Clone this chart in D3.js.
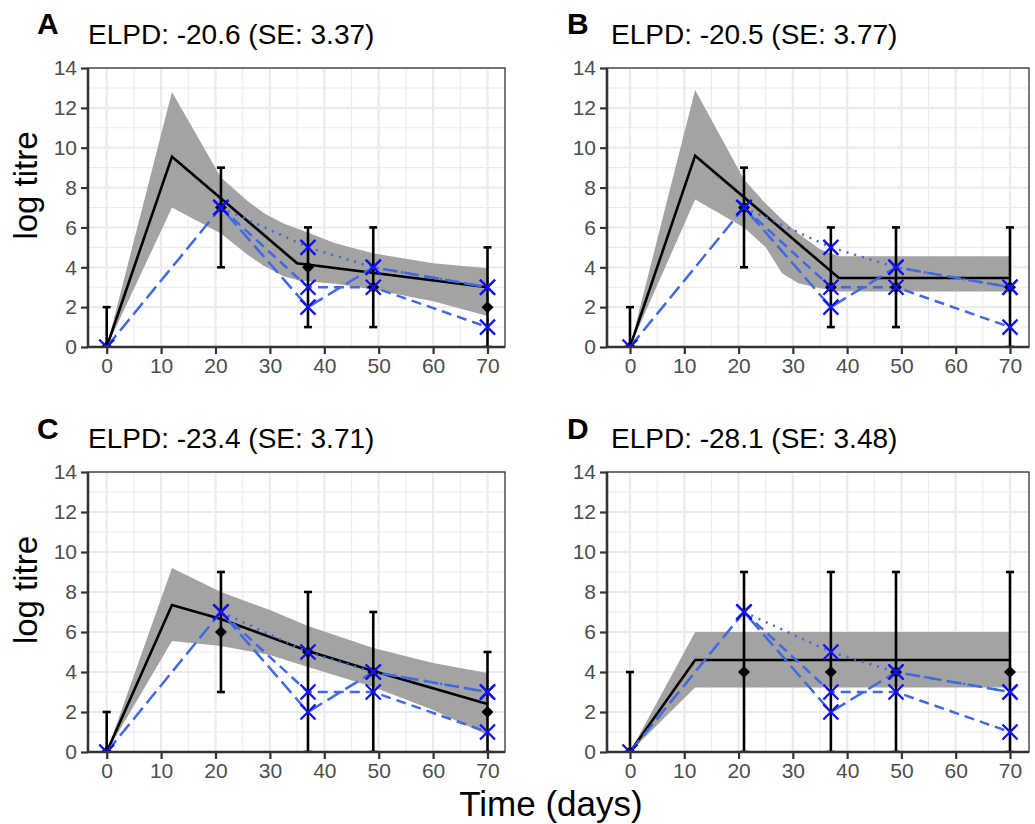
<!DOCTYPE html>
<html lang="en">
<head>
<meta charset="utf-8">
<title>ELPD panels</title>
<script src="https://cdn.jsdelivr.net/npm/d3@7/dist/d3.min.js"></script>
<style>
  body { margin: 0; background: #fff; }
  svg text { font-family: "Liberation Sans", Arial, Helvetica, sans-serif; }
</style>
</head>
<body>
<script>
// ---- data ----
var panelLetters = ["A", "B", "C", "D"];
var panelTitles = ["ELPD: -20.6 (SE: 3.37)", "ELPD: -20.5 (SE: 3.77)",
                   "ELPD: -23.4 (SE: 3.71)", "ELPD: -28.1 (SE: 3.48)"];

// observed summary: diamonds + error bars
var obsDays = [0, 21, 37, 49, 70];
var obsMid  = [[0, 7, 4, 3, 2], [0, 7, 3, 3, 3], [0, 6, 5, 4, 2], [0, 4, 4, 4, 4]];
var obsLow  = [[0, 4, 1, 1, 0], [0, 4, 1, 1, 0], [0, 3, 0, 0, 0], [0, 0, 0, 0, 0]];
var obsHigh = [[2, 9, 6, 6, 5], [2, 9, 6, 6, 6], [2, 9, 8, 7, 5], [4, 9, 9, 9, 9]];

// model fit: mean line
var fitDays = [[0, 12, 35, 70], [0, 12, 38.5, 70], [0, 12, 21, 37, 49, 70], [0, 12, 70]];
var fitMean = [[0, 9.55, 4.2, 3.0], [0, 9.6, 3.46, 3.46], [0, 7.35, 6.65, 5.05, 4.05, 2.4], [0, 4.6, 4.6]];

// model fit: credible band
var bandDays = [
  [0, 12, 21, 26, 29, 32.5, 35.5, 42, 49, 60, 70],
  [0, 12, 21, 25, 28, 31, 35, 38.5, 70],
  [0, 12, 21, 30, 37, 49, 60, 70],
  [0, 12, 70]
];
var bandUpper = [
  [0, 12.8, 8.5, 7.3, 6.7, 6.2, 5.9, 5.2, 4.7, 4.2, 3.95],
  [0, 12.9, 8.4, 7.2, 6.4, 5.7, 4.9, 4.55, 4.55],
  [0, 9.2, 8.0, 7.1, 6.3, 5.2, 4.45, 3.95],
  [0, 6.0, 6.0]
];
var bandLower = [
  [0, 7.0, 5.7, 4.6, 4.05, 3.55, 3.33, 3.18, 2.88, 2.3, 1.55],
  [0, 7.4, 6.0, 5.0, 3.7, 3.2, 2.95, 2.78, 2.78],
  [0, 5.55, 5.3, 4.85, 4.25, 3.25, 2.1, 0.85],
  [0, 3.22, 3.22]
];

// individual subjects (blue), same in every panel
var subjDays  = [[21, 37, 49, 70], [21, 37, 49, 70], [0, 21, 37, 49, 70]];
var subjTitre = [[7, 5, 4, 3], [7, 3, 3, 1], [0, 7, 2, 4, 3]];
var subjDash  = ["2,6", "10,6", "15,6"];

var xTicks = [0, 10, 20, 30, 40, 50, 60, 70];
var xMinor = [5, 15, 25, 35, 45, 55, 65];
var yTicks = [0, 2, 4, 6, 8, 10, 12, 14];
var yMinor = [1, 3, 5, 7, 9, 11, 13];

// ---- layout ----
var W = 1035, H = 824;
var boxes = [
  { left: 88, right: 505, top: 68, bottom: 347, x0: 106.7, x70: 487.5, tx: 37, ty: 34, hx: 88, hy: 44, ylab: true },
  { left: 607, right: 1029, top: 68, bottom: 347, x0: 630, x70: 1010, tx: 567, ty: 34, hx: 611, hy: 44, ylab: false },
  { left: 88, right: 505, top: 472, bottom: 752, x0: 106.7, x70: 487.5, tx: 37, ty: 439, hx: 88, hy: 448, ylab: true },
  { left: 607, right: 1029, top: 472, bottom: 752, x0: 630, x70: 1010, tx: 567, ty: 439, hx: 611, hy: 448, ylab: false }
];

var svg = d3.select("body").append("svg").attr("width", W).attr("height", H);

boxes.forEach(function (b, p) {
  var x = d3.scaleLinear().domain([0, 70]).range([b.x0, b.x70]);
  var y = d3.scaleLinear().domain([0, 14]).range([b.bottom, b.top]);
  var g = svg.append("g");

  // clip to panel
  var cid = "clip" + p;
  svg.append("clipPath").attr("id", cid).append("rect")
    .attr("x", b.left).attr("y", b.top)
    .attr("width", b.right - b.left).attr("height", b.bottom - b.top);

  // grid
  var grid = g.append("g");
  grid.selectAll(".xm").data(xMinor).enter().append("line")
    .attr("x1", x).attr("x2", x).attr("y1", b.top).attr("y2", b.bottom)
    .attr("stroke", "#ebebeb").attr("stroke-width", 1.1);
  grid.selectAll(".ym").data(yMinor).enter().append("line")
    .attr("x1", b.left).attr("x2", b.right).attr("y1", y).attr("y2", y)
    .attr("stroke", "#ebebeb").attr("stroke-width", 1.1);
  grid.selectAll(".xM").data(xTicks).enter().append("line")
    .attr("x1", x).attr("x2", x).attr("y1", b.top).attr("y2", b.bottom)
    .attr("stroke", "#ebebeb").attr("stroke-width", 2.2);
  grid.selectAll(".yM").data(yTicks).enter().append("line")
    .attr("x1", b.left).attr("x2", b.right).attr("y1", y).attr("y2", y)
    .attr("stroke", "#ebebeb").attr("stroke-width", 2.2);

  var plot = g.append("g").attr("clip-path", "url(#" + cid + ")");

  // band
  var band = bandDays[p].map(function (d, i) { return { d: d, lo: bandLower[p][i], hi: bandUpper[p][i] }; });
  plot.append("path").datum(band)
    .attr("fill", "#a3a3a3")
    .attr("d", d3.area().x(function (d) { return x(d.d); })
      .y0(function (d) { return y(d.lo); }).y1(function (d) { return y(d.hi); }));

  // mean line
  var fit = fitDays[p].map(function (d, i) { return [d, fitMean[p][i]]; });
  plot.append("path").datum(fit)
    .attr("fill", "none").attr("stroke", "#000").attr("stroke-width", 2.6)
    .attr("d", d3.line().x(function (d) { return x(d[0]); }).y(function (d) { return y(d[1]); }));

  // subject lines
  subjDays.forEach(function (ds, s) {
    var pts = ds.map(function (d, i) { return [d, subjTitre[s][i]]; });
    plot.append("path").datum(pts)
      .attr("fill", "none").attr("stroke", "#4169e1").attr("stroke-width", 2.5)
      .attr("stroke-dasharray", subjDash[s])
      .attr("d", d3.line().x(function (d) { return x(d[0]); }).y(function (d) { return y(d[1]); }));
  });

  // error bars
  var obs = obsDays.map(function (d, i) { return { d: d, m: obsMid[p][i], lo: obsLow[p][i], hi: obsHigh[p][i] }; });
  var eb = plot.append("g").attr("stroke", "#000").attr("stroke-width", 2.6);
  obs.forEach(function (o) {
    eb.append("line").attr("x1", x(o.d)).attr("x2", x(o.d)).attr("y1", y(o.lo)).attr("y2", y(o.hi));
    eb.append("line").attr("x1", x(o.d) - 4).attr("x2", x(o.d) + 4).attr("y1", y(o.hi)).attr("y2", y(o.hi));
    eb.append("line").attr("x1", x(o.d) - 4).attr("x2", x(o.d) + 4).attr("y1", y(o.lo)).attr("y2", y(o.lo));
  });

  // diamonds
  plot.selectAll(".dia").data(obs).enter().append("path")
    .attr("fill", "#000")
    .attr("d", function (o) {
      var cx = x(o.d), cy = y(o.m), r = 6;
      return "M" + cx + "," + (cy - r) + "L" + (cx + r) + "," + cy + "L" + cx + "," + (cy + r) + "L" + (cx - r) + "," + cy + "Z";
    });

  // subject crosses
  subjDays.forEach(function (ds, s) {
    ds.forEach(function (d, i) {
      var cx = x(d), cy = y(subjTitre[s][i]), r = 7.5;
      plot.append("path")
        .attr("stroke", "#1212f0").attr("stroke-width", 2.3).attr("fill", "none")
        .attr("d", "M" + (cx - r) + "," + (cy - r) + "L" + (cx + r) + "," + (cy + r) +
                   "M" + (cx - r) + "," + (cy + r) + "L" + (cx + r) + "," + (cy - r));
    });
  });

  // panel border and axes
  g.append("rect").attr("x", b.left).attr("y", b.top)
    .attr("width", b.right - b.left).attr("height", b.bottom - b.top)
    .attr("fill", "none").attr("stroke", "#333").attr("stroke-width", 1.3);

  var xa = g.append("g").attr("transform", "translate(0," + b.bottom + ")")
    .call(d3.axisBottom(x).tickValues(xTicks).tickSize(7).tickPadding(4));
  xa.select(".domain").attr("d", "M" + b.left + ",0H" + b.right).attr("stroke", "#333").attr("stroke-width", 2.6);
  xa.selectAll(".tick line").attr("stroke", "#333").attr("stroke-width", 2.2);
  xa.selectAll(".tick text").attr("fill", "#4d4d4d").style("font-size", "21px");

  var ya = g.append("g").attr("transform", "translate(" + b.left + ",0)")
    .call(d3.axisLeft(y).tickValues(yTicks).tickSize(7).tickPadding(4));
  ya.select(".domain").attr("d", "M0," + b.top + "V" + b.bottom).attr("stroke", "#333").attr("stroke-width", 2.6);
  ya.selectAll(".tick line").attr("stroke", "#333").attr("stroke-width", 2.2);
  ya.selectAll(".tick text").attr("fill", "#4d4d4d").style("font-size", "21px");

  // titles
  svg.append("text").attr("x", b.tx).attr("y", b.ty)
    .style("font-size", "30px").style("font-weight", "bold").text(panelLetters[p]);
  svg.append("text").attr("x", b.hx).attr("y", b.hy)
    .style("font-size", "28px").text(panelTitles[p]);

  if (b.ylab) {
    svg.append("text")
      .attr("transform", "translate(37," + (b.top + b.bottom) / 2 + ") rotate(-90) translate(22,0)")
      .attr("text-anchor", "middle").style("font-size", "33px").text("log titre");
  }
});

svg.append("text").attr("x", 551).attr("y", 816)
  .attr("text-anchor", "middle").style("font-size", "35px").text("Time (days)");
</script>
</body>
</html>
